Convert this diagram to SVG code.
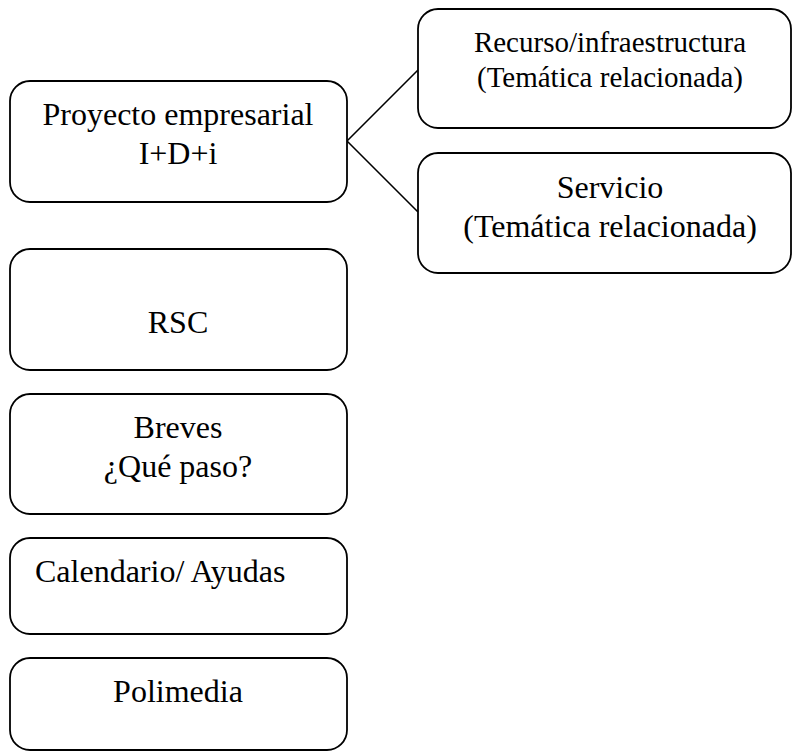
<svg xmlns="http://www.w3.org/2000/svg" width="792" height="751" viewBox="0 0 792 751">
<style>
.box{fill:#fff;stroke:#000;stroke-width:1.8}
.t{font-family:"Liberation Serif","Times New Roman",serif;font-size:32px;fill:#000;text-anchor:middle}
.s{font-size:29px}
.c{stroke:#000;stroke-width:1.6;fill:none}
</style>
<rect width="792" height="751" fill="#fff"/>
<g id="connectors">
<line class="c" x1="347" y1="141" x2="418" y2="70"/>
<line class="c" x1="347" y1="141" x2="418" y2="212"/>
</g>
<g id="proyecto">
<rect class="box" x="10" y="81" width="337" height="121" rx="20"/>
<text class="t" x="178" y="125">Proyecto empresarial</text>
<text class="t" x="178" y="164">I+D+i</text>
</g>
<g id="recurso">
<rect class="box" x="418" y="9" width="373" height="119" rx="20"/>
<text class="t s" x="610" y="52">Recurso/infraestructura</text>
<text class="t s" x="610" y="87">(Temática relacionada)</text>
</g>
<g id="servicio">
<rect class="box" x="418" y="153" width="373" height="120" rx="20"/>
<text class="t" x="610" y="198">Servicio</text>
<text class="t" x="610" y="237">(Temática relacionada)</text>
</g>
<g id="rsc">
<rect class="box" x="10" y="249" width="337" height="121" rx="20"/>
<text class="t" x="178" y="333">RSC</text>
</g>
<g id="breves">
<rect class="box" x="10" y="394" width="337" height="120" rx="20"/>
<text class="t" x="178" y="438">Breves</text>
<text class="t" x="178" y="477">¿Qué paso?</text>
</g>
<g id="calendario">
<rect class="box" x="10" y="538" width="337" height="96" rx="20"/>
<text class="t" x="35" y="582" style="text-anchor:start">Calendario/ Ayudas</text>
</g>
<g id="polimedia">
<rect class="box" x="10" y="658" width="337" height="92" rx="20"/>
<text class="t" x="178" y="702">Polimedia</text>
</g>
</svg>
